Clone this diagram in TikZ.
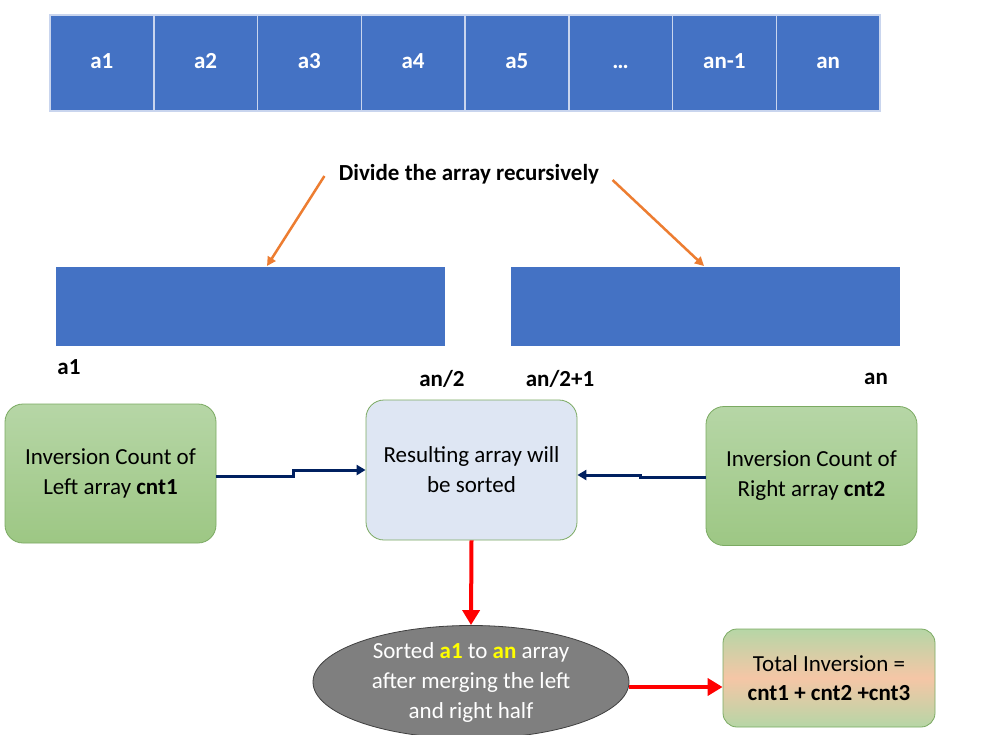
\documentclass[tikz,border=0pt]{standalone}
\usepackage{fontspec}
\setmainfont{Carlito}
\usetikzlibrary{arrows.meta,shapes.geometric}
\definecolor{blu}{HTML}{4472C4}
\definecolor{cellline}{HTML}{C9D5EE}
\definecolor{orng}{HTML}{ED7D31}
\definecolor{navy}{HTML}{002060}
\definecolor{gtop}{HTML}{B6D6A6}
\definecolor{gbot}{HTML}{9DC784}
\definecolor{gline}{HTML}{7BAA62}
\definecolor{lblue}{HTML}{DEE6F3}
\definecolor{peach}{HTML}{F5C6A6}
\definecolor{ellfill}{HTML}{7F7F7F}
\definecolor{ellline}{HTML}{404040}
\definecolor{yel}{HTML}{FFFF00}
\tikzset{
  txt/.style={font=\fontsize{23}{29}\selectfont},
  btxt/.style={font=\bfseries\fontsize{23}{29}\selectfont},
  cell/.style={draw=cellline, line width=1.5pt, fill=blu, text=white, minimum width=103.75pt, minimum height=96pt, inner sep=0pt, text height=16pt, text depth=6pt, font=\bfseries\fontsize{23}{29}\selectfont},
  half/.style={fill=blu, minimum width=389pt, minimum height=79pt, inner sep=0pt},
  greenbox/.style={draw=gline, line width=0.8pt, rounded corners=18pt, top color=gtop, bottom color=gbot, minimum width=211pt, minimum height=139pt, align=center, inner sep=0pt, font=\fontsize{23}{30}\selectfont},
  orarrow/.style={draw=orng, line width=2.5pt, -{Triangle[length=9pt,width=9pt]}},
  navyarrow/.style={draw=navy, line width=3pt, -{Triangle[length=9pt,width=10pt]}},
  redarrow/.style={draw=red, line width=4pt, -{Triangle[length=15pt,width=17pt]}},
}
\begin{document}
\begin{tikzpicture}[x=1pt,y=-1pt]
\useasboundingbox (0,0) rectangle (996,734);
\fill[white] (0,0) rectangle (996,734);
% top array
\node[cell] (c1) at (101.875,63) {a1};
\node[cell] (c2) at (205.625,63) {a2};
\node[cell] (c3) at (309.375,63) {a3};
\node[cell] (c4) at (413.125,63) {a4};
\node[cell] (c5) at (516.875,63) {a5};
\node[cell] (c6) at (620.625,63) {…};
\node[cell] (c7) at (724.375,63) {an-1};
\node[cell] (c8) at (828.125,63) {an};
% divide text
\node[btxt] (D) at (469,174) {Divide the array recursively};
% halves
\node[half] (LA) at (250.5,306.5) {};
\node[half] (RA) at (705.5,306.5) {};
\coordinate (lt) at (267,266);
\coordinate (rt) at (704,266);
\draw[orarrow] ([xshift=-11pt,yshift=-2pt]D.west) -- (lt);
\draw[orarrow] ([xshift=10pt,yshift=-6pt]D.east) -- (rt);
% labels
\node[btxt] (l1) at (69,367) {a1};
\node[btxt] (l2) at (442,379) {an/2};
\node[btxt] (l3) at (560,379) {an/2+1};
\node[btxt] (l4) at (876,379) {an};
% boxes
\node[greenbox] (L) at (110.5,473.5) {Inversion Count of\\Left array \textbf{cnt1}};
\node[draw=gline, line width=0.8pt, rounded corners=18pt, fill=lblue, minimum width=211pt, minimum height=140pt, align=center, inner sep=0pt, font=\fontsize{23}{30}\selectfont] (C) at (471.5,470) {Resulting array will\\be sorted};
\node[greenbox] (R) at (811.5,476) {Inversion Count of\\Right array \textbf{cnt2}};
\draw[navyarrow] ([yshift=-3pt]L.east) -- ++(77,0) |- (C.west);
\draw[navyarrow] ([yshift=-1pt]R.west) -- ++(-65,0) |- ([yshift=-5pt]C.east);
% ellipse
\node[ellipse, draw=ellline, line width=0.8pt, fill=ellfill, text=white, minimum width=316pt, minimum height=108pt, inner sep=0pt, align=center, font=\fontsize{23}{30}\selectfont] (E) at (471,682) {Sorted \textcolor{yel}{\textbf{a1}} to \textcolor{yel}{\textbf{an}} array\\after merging the left\\and right half};
\draw[redarrow] (C.south) -- (E.north);
% total box
\node[draw=gline, line width=0.8pt, rounded corners=14pt, top color=gtop, bottom color=gtop, middle color=peach, minimum width=212pt, minimum height=98pt, align=center, inner sep=0pt, font=\fontsize{23}{29}\selectfont] (T) at (829,678) {Total Inversion =\\\textbf{cnt1 + cnt2 +cnt3}};
\draw[redarrow] ([yshift=-5pt]E.east) -- ([yshift=-9pt]T.west);
\end{tikzpicture}
\end{document}
